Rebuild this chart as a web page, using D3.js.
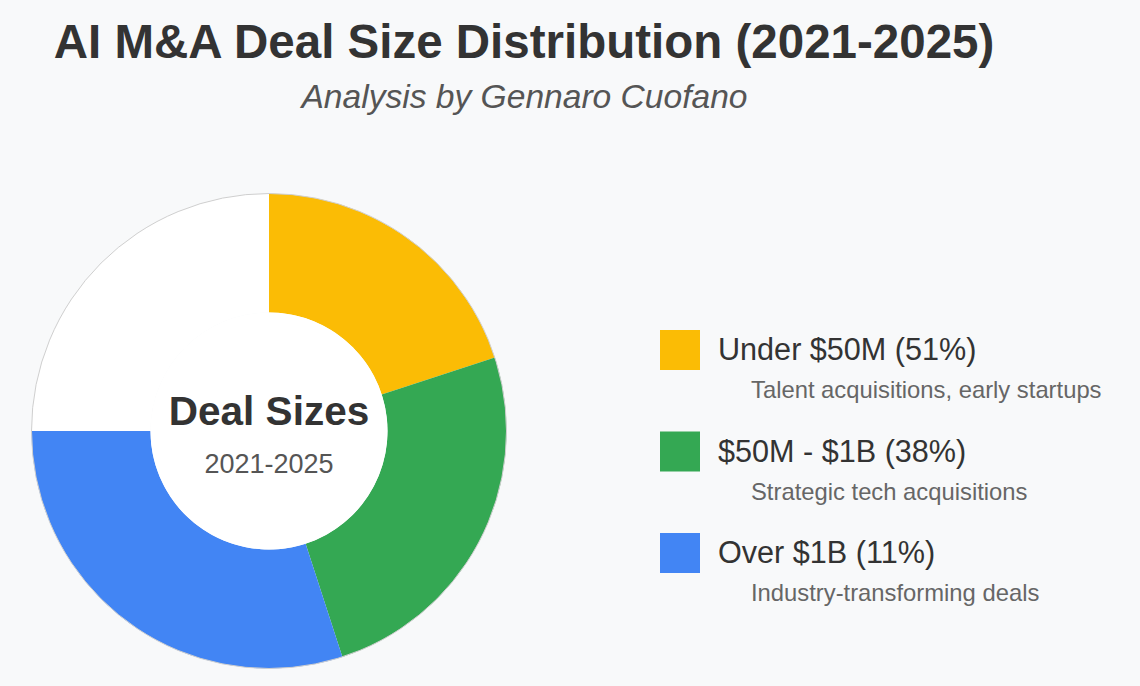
<!DOCTYPE html>
<html>
<head>
<meta charset="utf-8">
<script src="https://cdn.jsdelivr.net/npm/d3@7"></script>
<style>
  body { margin: 0; background: #f8f9fa; font-family: "Liberation Sans", Arial, Helvetica, sans-serif; }
</style>
</head>
<body>
<div id="chart"></div>
<script>
// Legend entries
const categories = ["Under $50M", "$50M - $1B", "Over $1B"];
const percents = [51, 38, 11];
const descriptions = [
  "Talent acquisitions, early startups",
  "Strategic tech acquisitions",
  "Industry-transforming deals"
];
const colors = ["#fbbc05", "#34a853", "#4285f4"];

// Arc sizes as drawn in the ring (last one is the empty white remainder)
const sliceValues = [20, 25, 30, 25];
const sliceColors = ["#fbbc05", "#34a853", "#4285f4", "#ffffff"];

// Dimensions
const width = 1140;
const height = 686;
const cx = 269, cy = 431;
const outerR = 237.5, innerR = 118.5;

const svg = d3.select("#chart")
  .append("svg")
  .attr("width", width)
  .attr("height", height);

// Title and subtitle
svg.append("text")
   .attr("x", 524)
   .attr("y", 58)
   .attr("text-anchor", "middle")
   .attr("font-size", 47.5)
   .attr("font-weight", "bold")
   .attr("fill", "#333")
   .text("AI M&A Deal Size Distribution (2021-2025)");

svg.append("text")
   .attr("x", 524.5)
   .attr("y", 108)
   .attr("text-anchor", "middle")
   .attr("font-size", 33.6)
   .attr("font-style", "italic")
   .attr("fill", "#555")
   .text("Analysis by Gennaro Cuofano");

// Donut
const pie = d3.pie().sort(null).value(d => d);
const arc = d3.arc().innerRadius(innerR).outerRadius(outerR);

const ring = svg.append("g")
  .attr("transform", `translate(${cx},${cy})`);

ring.selectAll("path")
  .data(pie(sliceValues))
  .enter()
  .append("path")
  .attr("d", arc)
  .attr("fill", (d, i) => sliceColors[i]);

// thin outline around the ring
ring.append("circle")
  .attr("r", outerR)
  .attr("fill", "none")
  .attr("stroke", "#cfcfcf")
  .attr("stroke-width", 1);

// white hole
ring.append("circle")
  .attr("r", innerR)
  .attr("fill", "#fff");

ring.append("text")
  .attr("y", -6)
  .attr("text-anchor", "middle")
  .attr("font-size", 40.5)
  .attr("font-weight", "bold")
  .attr("fill", "#333")
  .text("Deal Sizes");

ring.append("text")
  .attr("y", 42)
  .attr("text-anchor", "middle")
  .attr("font-size", 27)
  .attr("fill", "#555")
  .text("2021-2025");

// Legend
const legend = svg.append("g")
  .attr("transform", "translate(660,330)");

categories.forEach((cat, i) => {
    const row = legend.append("g")
      .attr("transform", `translate(0,${i * 101.5})`);
    row.append("rect")
      .attr("width", 40)
      .attr("height", 40)
      .attr("fill", colors[i]);
    row.append("text")
      .attr("x", 58)
      .attr("y", 30)
      .attr("font-size", 30.6)
      .attr("fill", "#333")
      .text(`${cat} (${percents[i]}%)`);
    row.append("text")
      .attr("x", 91)
      .attr("y", 68)
      .attr("font-size", 23.8)
      .attr("fill", "#666")
      .text(descriptions[i]);
});
</script>
</body>
</html>
